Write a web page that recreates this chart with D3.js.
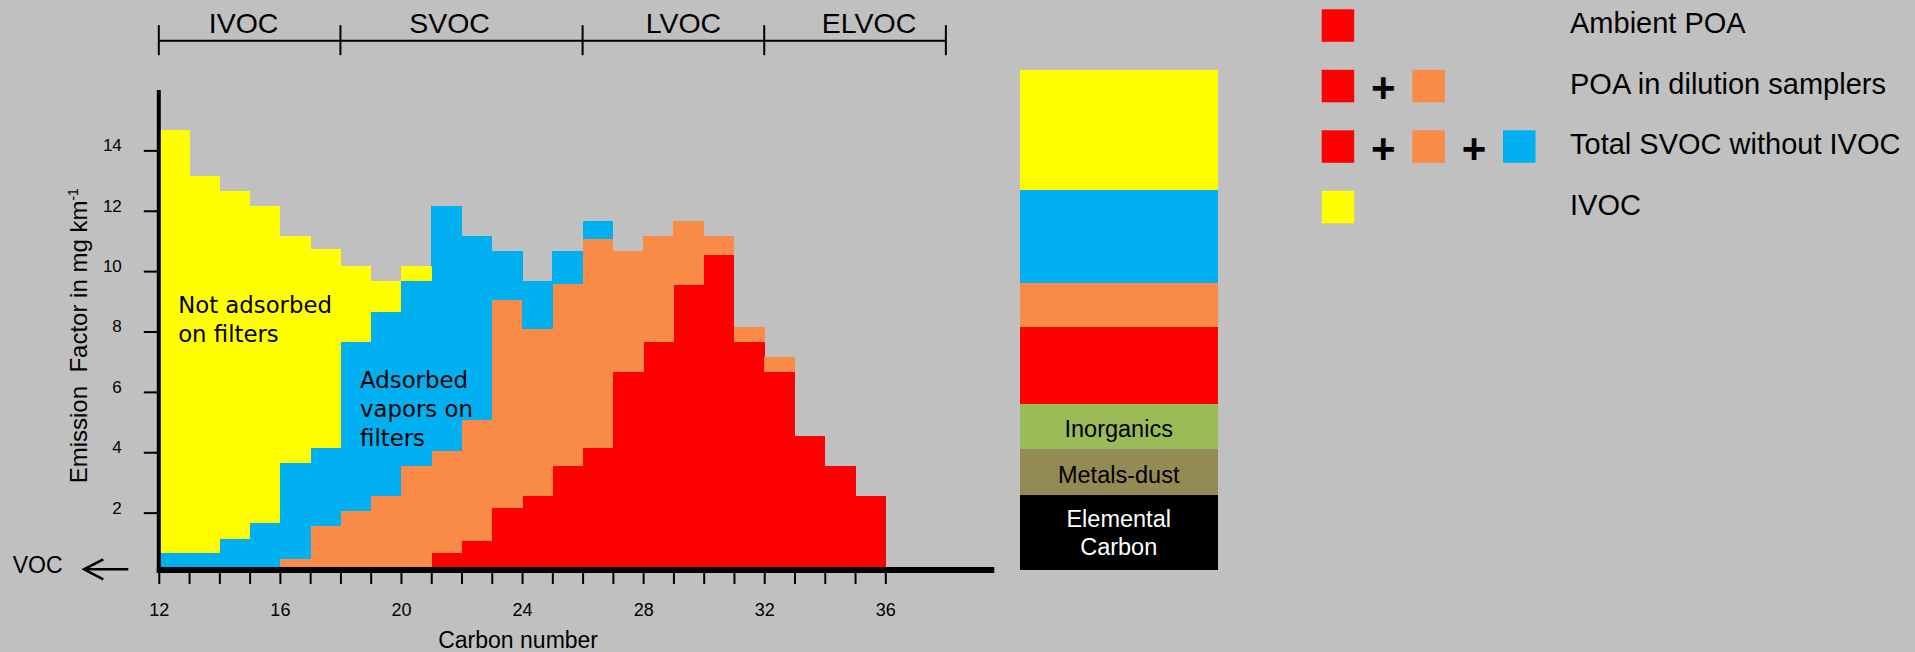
<!DOCTYPE html>
<html>
<head>
<meta charset="utf-8">
<script src="https://cdn.jsdelivr.net/npm/d3@7/dist/d3.min.js"></script>
<style>
  html, body { margin: 0; padding: 0; background: #c0c0c0; }
  svg { display: block; font-family: "Liberation Sans", Arial, sans-serif; }
</style>
</head>
<body>
<div id="chart"></div>
<script>
// carbon number of each bar (bar spans n .. n+1)
const carbonNumbers = [12, 13, 14, 15, 16, 17, 18, 19, 20, 21, 22, 23, 24, 25, 26, 27, 28, 29, 30, 31, 32, 33, 34, 35];

// emission factors per layer, mg/km
const ambientPOA     = [0, 0, 0, 0, 0, 0, 0, 0, 0, 0.65, 1.05, 2.15, 2.55, 3.55, 4.15, 6.65, 7.65, 9.55, 10.55, 7.65, 6.65, 4.55, 3.55, 2.55];
const dilutionPOA    = [0, 0, 0, 0, 0.47, 1.56, 2.05, 2.55, 3.55, 3.40, 4.02, 6.91, 5.53, 6.03, 6.93, 4.01, 3.51, 2.11, 0.61, 0.51, 0.49, 0, 0, 0];
const adsorbedVapors = [0.65, 0.65, 1.13, 1.64, 3.16, 2.58, 5.59, 6.10, 6.11, 8.10, 6.09, 1.60, 1.58, 1.08, 0.58, 0, 0, 0, 0, 0, 0, 0, 0, 0];
const ivocVapors     = [14.02, 12.50, 11.52, 10.51, 7.53, 6.58, 2.53, 1.01, 0.51, 0, 0, 0, 0, 0, 0, 0, 0, 0, 0, 0, 0, 0, 0, 0];

const yTicks = [2, 4, 6, 8, 10, 12, 14];
const xTickLabels = [12, 16, 20, 24, 28, 32, 36];

// volatility classes along the top
const regionBounds = [12, 18, 26, 32, 38];
const regionNames = ["IVOC", "SVOC", "LVOC", "ELVOC"];

// composition bar on the right (bottom to top)
const compositionNames = ["Elemental Carbon", "Metals-dust", "Inorganics", "Ambient POA", "Dilution POA", "Adsorbed vapors", "IVOC"];
const compositionValues = [2.46, 1.53, 1.48, 2.58, 1.43, 3.08, 4.0];
const compositionShowLabel = [true, true, true, false, false, false, false];

// legend rows
const legendRows = [
  { keys: ["ambient"], label: "Ambient POA" },
  { keys: ["ambient", "dilution"], label: "POA in dilution samplers" },
  { keys: ["ambient", "dilution", "adsorbed"], label: "Total SVOC without IVOC" },
  { keys: ["ivoc"], label: "IVOC" }
];

const colors = {
  ambient: "#ff0000",
  dilution: "#f98b46",
  adsorbed: "#00b0f0",
  ivoc: "#ffff00"
};
const compositionColors = ["#000000", "#948a54", "#9bbb59", colors.ambient, colors.dilution, colors.adsorbed, colors.ivoc];

const width = 1915, height = 652;
const axisY = 570;

const svg = d3.select("#chart").append("svg")
  .attr("width", width)
  .attr("height", height);

svg.append("rect").attr("width", width).attr("height", height).attr("fill", "#c0c0c0");

const x = d3.scaleLinear().domain([12, 39.6]).range([158.8, 994.3]);
const y = d3.scaleLinear().domain([0, 16]).range([573, 90]);

// stacked bars
const rows = carbonNumbers.map((c, i) => ({
  carbon: c,
  ambient: ambientPOA[i],
  dilution: dilutionPOA[i],
  adsorbed: adsorbedVapors[i],
  ivoc: ivocVapors[i]
}));
const keys = ["ambient", "dilution", "adsorbed", "ivoc"];
const stacked = d3.stack().keys(keys)(rows);

const barGroup = svg.append("g").attr("shape-rendering", "crispEdges");
stacked.forEach(layer => {
  barGroup.append("g")
    .attr("fill", colors[layer.key])
    .selectAll("rect")
    .data(layer.filter(d => d[1] - d[0] > 0))
    .join("rect")
    .attr("x", d => x(d.data.carbon))
    .attr("width", d => x(d.data.carbon + 1) - x(d.data.carbon) + 0.5)
    .attr("y", d => y(d[1]))
    .attr("height", d => y(d[0]) - y(d[1]));
});

// annotations inside the bars
const note = svg.append("g")
  .attr("font-family", "'DejaVu Sans', Verdana, sans-serif")
  .attr("font-size", 22.8)
  .attr("fill", "#000");
note.append("text").attr("x", x(12.64)).attr("y", y(8.6))
  .selectAll("tspan").data(["Not adsorbed", "on filters"]).join("tspan")
  .attr("x", x(12.64)).attr("dy", (d, i) => i ? 28.5 : 0).text(d => d);
note.append("text").attr("x", x(18.65)).attr("y", y(6.12))
  .selectAll("tspan").data(["Adsorbed", "vapors on", "filters"]).join("tspan")
  .attr("x", x(18.65)).attr("dy", (d, i) => i ? 28.7 : 0).text(d => d);

// y axis
const yAxis = d3.axisLeft(y).tickValues(yTicks).tickSize(15).tickPadding(22);
const gy = svg.append("g").attr("transform", `translate(${x(12)},0)`).call(yAxis);
gy.select(".domain").remove();
gy.selectAll(".tick line").attr("stroke", "#000").attr("stroke-width", 2);
gy.selectAll(".tick text").attr("font-size", 17).attr("fill", "#000")
  .attr("font-family", "'Liberation Sans', Arial, sans-serif").attr("dy", "0.32em")
  .attr("y", -5);
svg.append("line")
  .attr("x1", x(12)).attr("x2", x(12))
  .attr("y1", y(16)).attr("y2", axisY + 3)
  .attr("stroke", "#000").attr("stroke-width", 4);

// x axis
const xAxis = d3.axisBottom(x).tickValues(carbonNumbers.concat([36])).tickSize(14).tickPadding(19)
  .tickFormat(d => xTickLabels.includes(d) ? d : "");
const gx = svg.append("g").attr("transform", `translate(0,${axisY})`).call(xAxis);
gx.select(".domain").remove();
gx.selectAll(".tick line").attr("stroke", "#000").attr("stroke-width", 2);
gx.selectAll(".tick text").attr("font-size", 18).attr("fill", "#000")
  .attr("font-family", "'Liberation Sans', Arial, sans-serif");
svg.append("line")
  .attr("x1", x(12) - 2).attr("x2", x(39.6))
  .attr("y1", axisY).attr("y2", axisY)
  .attr("stroke", "#000").attr("stroke-width", 6);

svg.append("text")
  .attr("x", x(23.87)).attr("y", 648)
  .attr("text-anchor", "middle").attr("font-size", 23).attr("fill", "#000")
  .text("Carbon number");

// y axis title
const yTitle = svg.append("text")
  .attr("transform", "translate(86.7,483.3) rotate(-90)")
  .attr("font-size", 24).attr("fill", "#000")
  .style("white-space", "pre");
yTitle.append("tspan").text("Emission  Factor in mg km");
yTitle.append("tspan").attr("font-size", 14).attr("dy", -9).text("-1");

// VOC arrow
svg.append("text").attr("x", 12.7).attr("y", 572.7)
  .attr("font-size", 23).attr("fill", "#000").text("VOC");
svg.append("path")
  .attr("d", "M128.3,569.3 L84,569.3 M103.3,559.3 L84,569.3 L103.3,579.3")
  .attr("fill", "none").attr("stroke", "#000").attr("stroke-width", 2.5);

// volatility brackets on top
const bracketY = 40.7;
const regionLabelNudge = [-6, -12, 10, 14];
const bracketGroup = svg.append("g");
bracketGroup.append("line")
  .attr("x1", x(regionBounds[0])).attr("x2", x(regionBounds[regionBounds.length - 1]))
  .attr("y1", bracketY).attr("y2", bracketY)
  .attr("stroke", "#000").attr("stroke-width", 2);
bracketGroup.selectAll(".btick").data(regionBounds).join("line")
  .attr("x1", d => x(d)).attr("x2", d => x(d))
  .attr("y1", bracketY - 15.5).attr("y2", bracketY + 14.5)
  .attr("stroke", "#000").attr("stroke-width", 2);
bracketGroup.selectAll(".blabel").data(regionNames).join("text")
  .attr("x", (d, i) => (x(regionBounds[i]) + x(regionBounds[i + 1])) / 2 + regionLabelNudge[i])
  .attr("y", 33.3)
  .attr("text-anchor", "middle").attr("font-size", 28.5).attr("fill", "#000")
  .text(d => d);

// composition bar
const compTotal = d3.sum(compositionValues);
const yc = d3.scaleLinear().domain([0, compTotal]).range([569.6, 69.6]);
const compStack = d3.cumsum(compositionValues);
const comp = svg.append("g").attr("shape-rendering", "crispEdges");
comp.selectAll("rect").data(compositionValues).join("rect")
  .attr("x", 1019.5).attr("width", 198.5)
  .attr("y", (d, i) => yc(compStack[i]))
  .attr("height", (d, i) => yc(compStack[i] - d) - yc(compStack[i]))
  .attr("fill", (d, i) => compositionColors[i]);
const compLabels = svg.append("g").attr("font-size", 23.5).attr("text-anchor", "middle");
compositionNames.forEach((name, i) => {
  if (!compositionShowLabel[i]) return;
  const mid = yc(compStack[i] - compositionValues[i] / 2);
  const words = i === 0 ? name.split(" ") : [name];
  const t = compLabels.append("text")
    .attr("fill", i === 0 ? "#fff" : "#000")
    .attr("y", words.length > 1 ? mid - 5.7 : mid + 10.3);
  words.forEach((w, j) => {
    t.append("tspan").attr("x", 1118.7).attr("dy", j ? 28.5 : 0).text(w);
  });
});

// legend
const swatchX = [1321.7, 1412.3, 1503];
const legend = svg.append("g");
legendRows.forEach((row, r) => {
  const rowTop = 9.3 + r * 60.5;
  row.keys.forEach((k, j) => {
    legend.append("rect")
      .attr("x", swatchX[j]).attr("y", rowTop)
      .attr("width", 32.5).attr("height", 32.5)
      .attr("fill", colors[k]);
    if (j > 0) {
      legend.append("text")
        .attr("x", (swatchX[j - 1] + 32.5 + swatchX[j]) / 2)
        .attr("y", rowTop + 16.25 + 16)
        .attr("text-anchor", "middle").attr("font-weight", "bold")
        .attr("font-size", 42).attr("fill", "#000").text("+");
    }
  });
  legend.append("text")
    .attr("x", 1570).attr("y", 33.3 + r * 60.5)
    .attr("font-size", 29).attr("fill", "#000")
    .text(row.label);
});
</script>
</body>
</html>
